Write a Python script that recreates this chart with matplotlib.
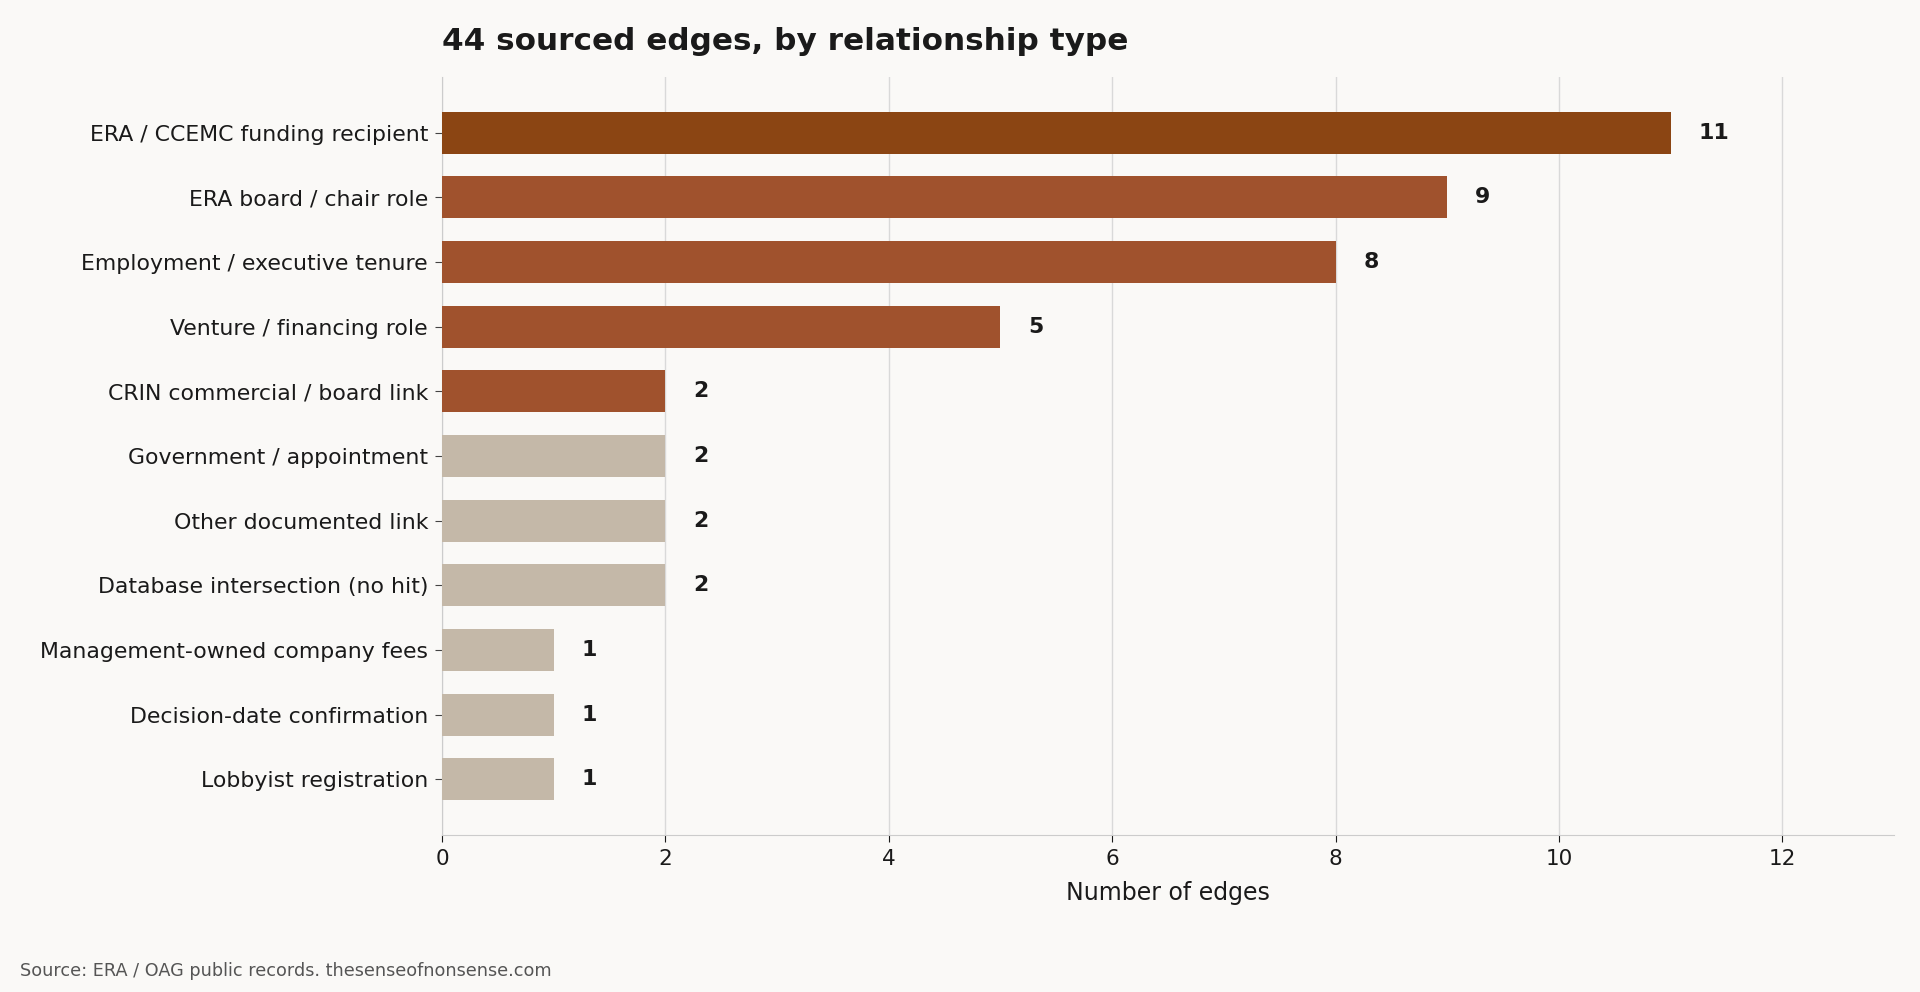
import matplotlib
matplotlib.use("Agg")
import matplotlib.pyplot as plt

# data, top to bottom as shown
categories = [
    "ERA / CCEMC funding recipient",
    "ERA board / chair role",
    "Employment / executive tenure",
    "Venture / financing role",
    "CRIN commercial / board link",
    "Government / appointment",
    "Other documented link",
    "Database intersection (no hit)",
    "Management-owned company fees",
    "Decision-date confirmation",
    "Lobbyist registration",
]
counts = [11, 9, 8, 5, 2, 2, 2, 2, 1, 1, 1]
bar_colors = ["#8B4513"] + ["#A0522D"] * 4 + ["#C4B8A8"] * 6

BG = "#FAF9F7"

fig = plt.figure(figsize=[19.2, 9.92], dpi=100, facecolor=BG)
ax = fig.add_axes([442 / 1920, 1 - 835 / 992, (1894 - 442) / 1920, (835 - 77) / 992])
ax.set_facecolor(BG)

ypos = list(range(len(categories)))
ax.barh(ypos, counts, height=0.65, color=bar_colors, zorder=3)
ax.set_yticks(ypos)
ax.set_yticklabels(categories, fontsize=15.8, color="#1a1a1a")
ax.set_ylim(len(categories) - 1 + 0.86, -0.86)

for y, v in zip(ypos, counts):
    ax.text(v + 0.25, y, str(v), va="center", ha="left", fontsize=15.8,
            fontweight="bold", color="#1a1a1a")

ax.set_xlim(0, 13)
ax.set_xticks(range(0, 13, 2))
ax.tick_params(axis="x", labelsize=15.5, colors="#1a1a1a", length=5, pad=5)
ax.tick_params(axis="y", length=5, color="#444444", pad=5)
ax.set_xlabel("Number of edges", fontsize=17, color="#1a1a1a", labelpad=9)

ax.grid(axis="x", color="#d9d9d9", linewidth=1.0, zorder=0)
for s in ["top", "right"]:
    ax.spines[s].set_visible(False)
ax.spines["left"].set_color("#cccccc")
ax.spines["bottom"].set_color("#cccccc")

fig.text(442 / 1920, 1 - 42 / 992, "44 sourced edges, by relationship type",
         fontsize=22.4, fontweight="bold", color="#1a1a1a", ha="left", va="center")
fig.text(20 / 1920, 1 - 971 / 992, "Source: ERA / OAG public records. thesenseofnonsense.com",
         fontsize=12.7, color="#555555", ha="left", va="center")

fig.savefig("out.png", dpi=100, facecolor=BG)
